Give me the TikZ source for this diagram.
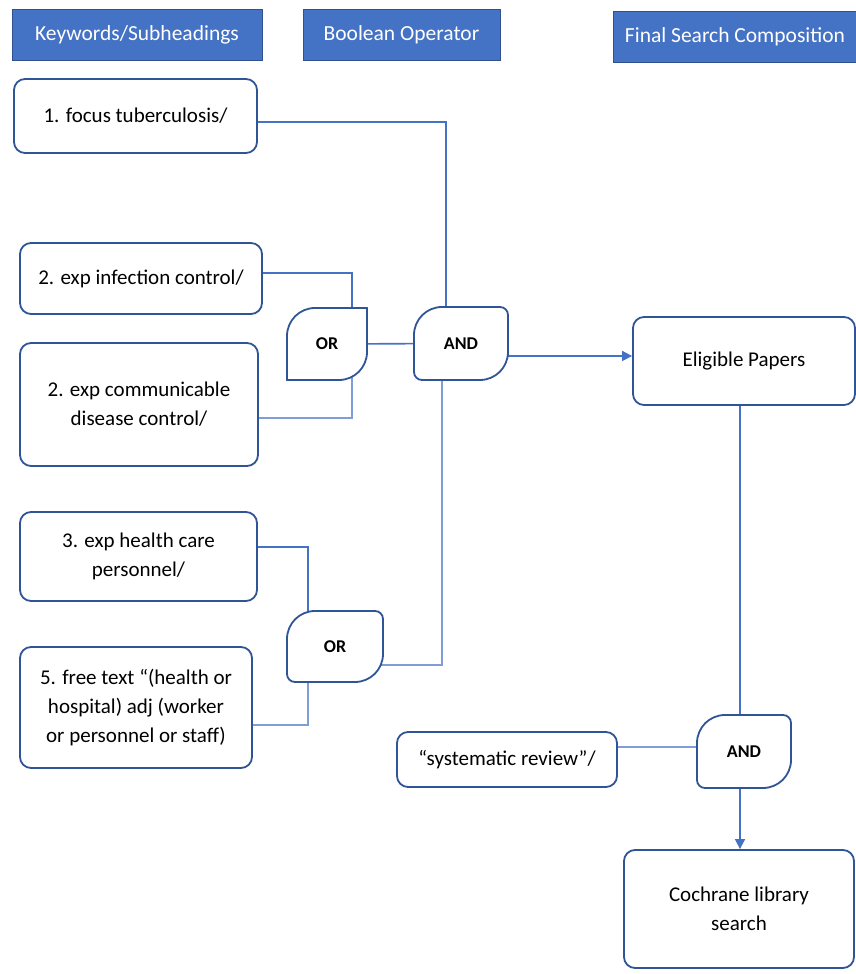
\documentclass[tikz,border=0pt]{standalone}
\usepackage{fontspec}
\setmainfont{Carlito}
\usetikzlibrary{arrows.meta,calc}
\definecolor{boxblue}{HTML}{2F5597}
\definecolor{linkblue}{HTML}{4472C4}
\definecolor{lightlink}{HTML}{7F9ED8}
\definecolor{headfill}{HTML}{4472C4}
\definecolor{headdraw}{HTML}{2F528F}
\pgfdeclarelayer{bg}
\pgfdeclarelayer{mid}
\pgfsetlayers{bg,mid,main}
\newcommand{\gateshape}[3]{%
 \draw[gateline] let \p1=(#1.south west), \p2=(#1.north east) in
 (\x1,{\y1+#3}) -- (\x1,{\y2-#2}) arc[start angle=180,end angle=90,radius=#2]
 -- ({\x2-#3},\y2) arc[start angle=90,end angle=0,radius=#3]
 -- (\x2,{\y1+#2}) arc[start angle=0,end angle=-90,radius=#2]
 -- ({\x1+#3},\y1) arc[start angle=270,end angle=180,radius=#3] -- cycle;}
\begin{document}
\begin{tikzpicture}[x=1pt,y=1pt,
 headbox/.style={draw=headdraw, line width=0.8pt, fill=headfill, text=white, inner sep=0pt, minimum height=51pt, font=\fontsize{21.5}{24}\selectfont},
 termbox/.style={draw=boxblue, line width=1.8pt, rounded corners=11pt, fill=white, align=center, inner sep=0pt, font=\fontsize{21}{29}\selectfont},
 gatenode/.style={inner sep=0pt, outer sep=0pt, font=\bfseries\fontsize{18}{21}\selectfont},
 link/.style={draw=linkblue, line width=1.6pt},
 thinlink/.style={draw=lightlink, line width=1.1pt},
 arrowlink/.style={link, -{Triangle[length=10pt,width=10pt]}},
 gateline/.style={draw=boxblue, line width=1.8pt, fill=white}]
\useasboundingbox (0,0) rectangle (856,974);

% headers
\node[headbox, minimum width=250pt] (h1) at (137,939.5) {Keywords/Subheadings};
\node[headbox, minimum width=197pt] (h2) at (401.5,939.5) {Boolean Operator};
\node[headbox, minimum width=244pt] (h3) at (735,937.5) {Final Search Composition};

% term boxes
\node[termbox, minimum width=243pt, minimum height=74pt] (b1) at (135.5,858) {1. focus tuberculosis/};
\node[termbox, minimum width=242pt, minimum height=71pt] (b2) at (141,695.5) {2. exp infection control/};
\node[termbox, minimum width=238pt, minimum height=123pt] (b3) at (139,569.5) {2. exp communicable\\disease control/};
\node[termbox, minimum width=237pt, minimum height=89pt] (b4) at (138.5,417.5) {3. exp health care\\personnel/};
\node[termbox, minimum width=232pt, minimum height=121pt] (b5) at (136,266.5) {5. free text “(health or\\hospital) adj (worker\\or personnel or staff)};
\node[termbox, minimum width=220pt, minimum height=55pt] (b6) at (507,214.5) {“systematic review”/};
\node[termbox, minimum width=222pt, minimum height=88pt] (elig) at (744,613) {Eligible Papers};
\node[termbox, minimum width=230pt, minimum height=118pt] (coch) at (739,65) {Cochrane library\\search};

% gates
\node[gatenode, minimum width=80pt, minimum height=72pt] (or1) at (327,630) {OR};
\node[gatenode, minimum width=94pt, minimum height=73pt] (and1) at (461,630.5) {AND};
\node[gatenode, minimum width=96pt, minimum height=71pt] (or2) at (335,327.5) {OR};
\node[gatenode, minimum width=94pt, minimum height=73pt] (and2) at (744,222.5) {AND};

\begin{pgfonlayer}{mid}
\gateshape{or1}{28pt}{0.01pt}
\gateshape{and1}{28pt}{8pt}
\gateshape{or2}{28pt}{8pt}
\gateshape{and2}{28pt}{8pt}
\end{pgfonlayer}

\begin{pgfonlayer}{bg}
\draw[link] ([yshift=-6pt]b1.east) -| ([xshift=-15pt]and1.center);
\draw[link] ([yshift=5.5pt]b2.east) -| ([xshift=25pt]or1.center);
\draw[thinlink] ([yshift=-13.5pt]b3.east) -| ([xshift=25pt]or1.center);
\draw[link] (or1.center) -- (and1.center);
\coordinate (a1out) at ([yshift=-12.5pt]and1.center);
\draw[arrowlink] (a1out) -- (a1out -| elig.west);
\draw[thinlink] ([xshift=-19pt]and1.center) |- ([yshift=-18.5pt]or2.center);
\draw[link] ([yshift=9.5pt]b4.east) -| ([xshift=-27pt]or2.center);
\draw[thinlink] ([yshift=-17.5pt]b5.east) -| ([xshift=-27pt]or2.center);
\draw[link] ([xshift=-4pt]elig.south) -- ([xshift=-4pt]elig.south |- and2.center);
\draw[thinlink] ([yshift=12.5pt]b6.east) -- ([yshift=12.5pt]b6.east -| and2.center);
\coordinate (a2out) at ([xshift=-4pt]and2.center);
\draw[arrowlink] (a2out) -- (a2out |- coch.north);
\end{pgfonlayer}
\end{tikzpicture}
\end{document}
